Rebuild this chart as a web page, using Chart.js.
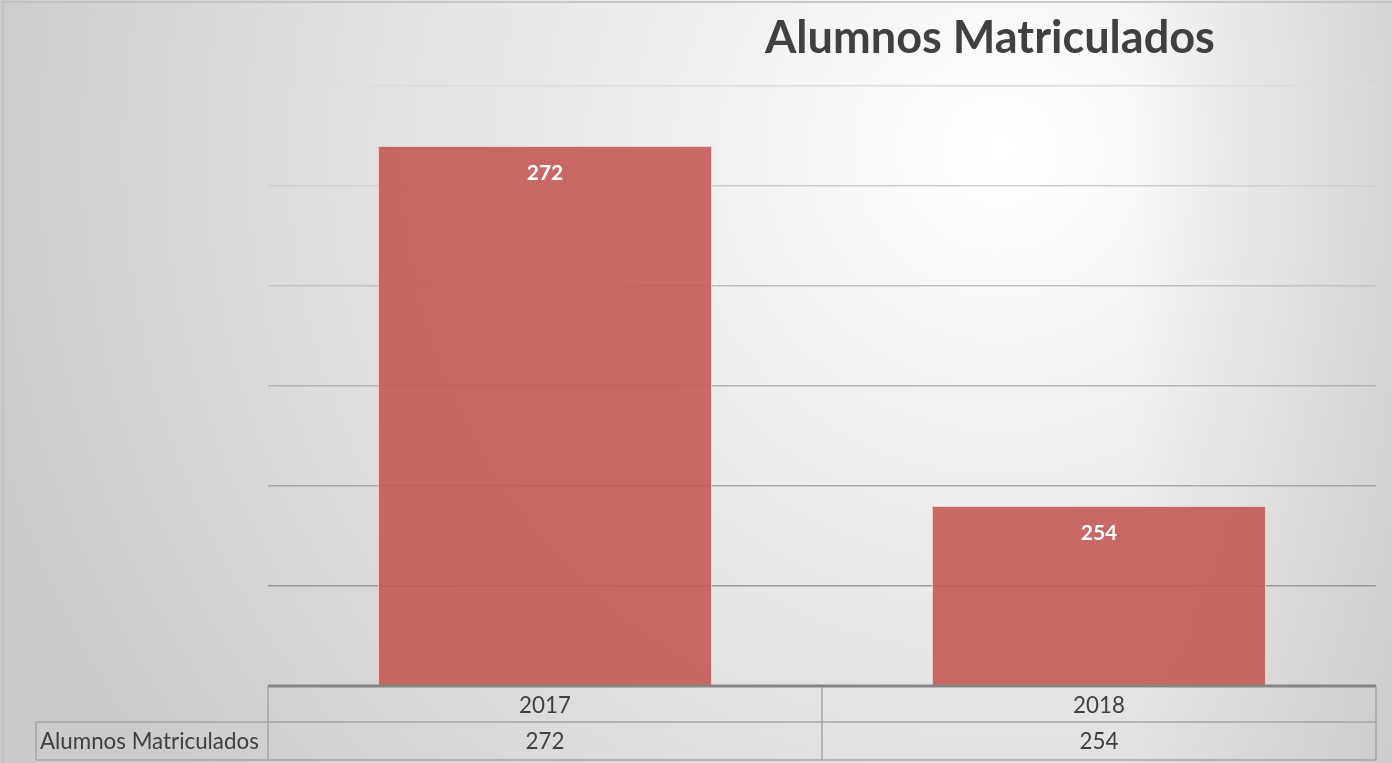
<!DOCTYPE html>
<html>
<head>
<meta charset="utf-8">
<script src="https://cdn.jsdelivr.net/npm/chart.js@4.4.1/dist/chart.umd.min.js"></script>
<style>
    html, body { margin: 0; padding: 0; background: #fff; }
    #wrap { width: 1392px; height: 763px; }
</style>
</head>
<body>
<div id="wrap"><canvas id="chart"></canvas></div>
<script>
const chartTitle = 'Alumnos Matriculados';
const seriesName = 'Alumnos Matriculados';
const years = ['2017', '2018'];
const enrolled = [272, 254];
const axisMin = 245;
const axisMax = 275;
const axisStep = 5;

const FONT = 'Lato, "Open Sans", sans-serif';
const textColor = '#404040';
const tableLine = '#a5a5a5';

// light top gridlines fading to darker ones near the axis
const gridShade = (index) => {
    const t = index / 6;
    const v = Math.round(140 + (220 - 140) * t);
    return `rgb(${v}, ${v}, ${v})`;
};

const backgroundPlugin = {
    id: 'background',
    beforeDraw(chart) {
        const { ctx, width, height } = chart;
        ctx.save();
        const g = ctx.createRadialGradient(1000, 150, 0, 1000, 150, 1050);
        g.addColorStop(0, '#ffffff');
        g.addColorStop(0.5, '#e6e6e6');
        g.addColorStop(1, '#cbcbcb');
        ctx.fillStyle = g;
        ctx.fillRect(0, 0, width, height);
        const r = ctx.createLinearGradient(width - 260, 0, width, 0);
        r.addColorStop(0, 'rgba(190,190,190,0)');
        r.addColorStop(1, 'rgba(190,190,190,0.5)');
        ctx.fillStyle = r;
        ctx.fillRect(width - 260, 0, 260, height);
        ctx.strokeStyle = '#bdbdbd';
        ctx.lineWidth = 1.5;
        ctx.beginPath();
        ctx.moveTo(3, height);
        ctx.lineTo(3, 2);
        ctx.lineTo(width, 2);
        ctx.stroke();
        ctx.restore();
    }
};

const fitFont = (ctx, text, weight, target) => {
    ctx.font = `${weight} 40px ${FONT}`;
    const size = 40 * target / ctx.measureText(text).width;
    return `${weight} ${size}px ${FONT}`;
};

const overlayPlugin = {
    id: 'overlay',
    afterDatasetsDraw(chart) {
        const { ctx, chartArea } = chart;
        const x = chart.scales.x;
        const meta = chart.getDatasetMeta(0);
        ctx.save();

        // value labels inside the bars
        ctx.fillStyle = '#ffffff';
        ctx.font = `bold 21px ${FONT}`;
        ctx.textAlign = 'center';
        ctx.textBaseline = 'middle';
        meta.data.forEach((bar, i) => {
            ctx.fillText(String(enrolled[i]), bar.x, bar.y + 27);
        });

        // title
        ctx.fillStyle = textColor;
        ctx.font = fitFont(ctx, chartTitle, 'bold', 450);
        ctx.textBaseline = 'alphabetic';
        ctx.fillText(chartTitle, 990, 53);

        // data table
        const top = chartArea.bottom;
        const mid = top + 36;
        const bot = mid + 38;
        const labelLeft = 36;
        const left = chartArea.left;
        const right = chartArea.right;
        const split = (x.getPixelForValue(0) + x.getPixelForValue(1)) / 2;

        ctx.strokeStyle = tableLine;
        ctx.lineWidth = 1.5;
        ctx.beginPath();
        ctx.moveTo(labelLeft, mid); ctx.lineTo(right, mid);
        ctx.moveTo(labelLeft, bot); ctx.lineTo(right, bot);
        ctx.moveTo(labelLeft, mid); ctx.lineTo(labelLeft, bot);
        [left, split, right].forEach(px => {
            ctx.moveTo(px, top); ctx.lineTo(px, bot);
        });
        ctx.stroke();

        // axis line
        ctx.strokeStyle = '#858585';
        ctx.lineWidth = 3;
        ctx.beginPath();
        ctx.moveTo(left, top);
        ctx.lineTo(right, top);
        ctx.stroke();

        ctx.fillStyle = textColor;
        const cellFont = fitFont(ctx, seriesName, 'normal', 219);
        ctx.font = cellFont;
        ctx.textBaseline = 'middle';
        ctx.textAlign = 'center';
        years.forEach((y, i) => {
            const px = x.getPixelForValue(i);
            ctx.fillText(y, px, (top + mid) / 2 + 2);
            ctx.fillText(String(enrolled[i]), px, (mid + bot) / 2 + 1);
        });
        ctx.textAlign = 'left';
        ctx.fillText(seriesName, 40, (mid + bot) / 2 + 1);
        ctx.restore();
    }
};

new Chart(document.getElementById('chart'), {
    type: 'bar',
    data: {
        labels: years,
        datasets: [{
            label: seriesName,
            data: enrolled,
            backgroundColor: 'rgba(196, 90, 86, 0.9)',
            borderColor: '#f2cccb',
            borderWidth: 1,
            categoryPercentage: 1,
            barPercentage: 0.603
        }]
    },
    options: {
        responsive: true,
        maintainAspectRatio: false,
        animation: false,
        layout: {
            padding: { left: 268, right: 16, top: 86, bottom: 77 }
        },
        plugins: {
            legend: { display: false },
            title: { display: false },
            tooltip: { enabled: false }
        },
        scales: {
            x: {
                display: false
            },
            y: {
                min: axisMin,
                max: axisMax,
                ticks: { display: false, stepSize: axisStep },
                border: { display: false },
                grid: {
                    drawTicks: false,
                    lineWidth: 1.5,
                    color: (c) => c.index === 0 ? 'rgba(0,0,0,0)' : gridShade(c.index)
                }
            }
        }
    },
    plugins: [backgroundPlugin, overlayPlugin]
});
</script>
</body>
</html>
